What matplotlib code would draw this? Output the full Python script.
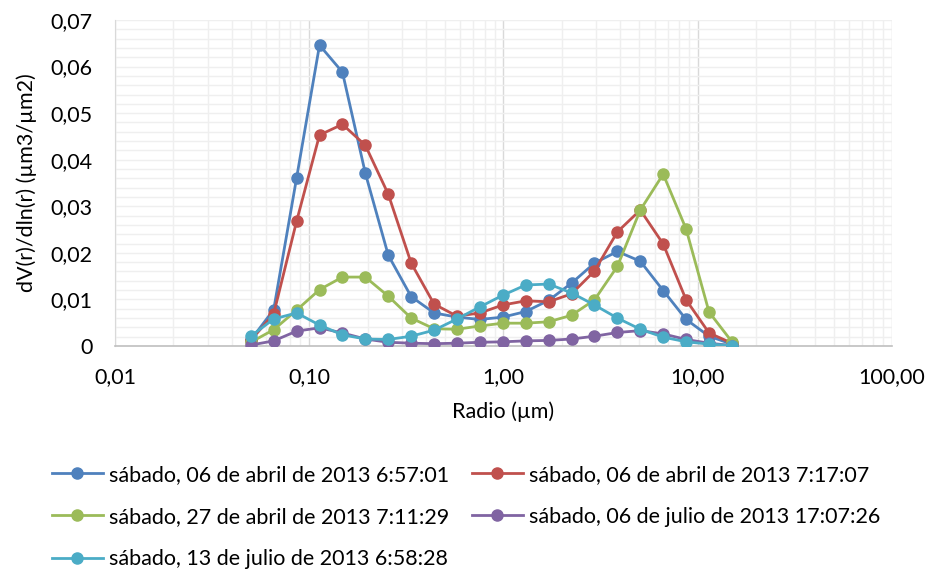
import matplotlib
matplotlib.use("Agg")
import matplotlib.pyplot as plt
from matplotlib.ticker import FixedLocator, LogLocator, MultipleLocator, NullFormatter

plt.rcParams['font.family'] = ['Lato', 'DejaVu Sans']

# radius bins (um)
radio = [0.05, 0.065604, 0.086077, 0.112939, 0.148184, 0.194429, 0.255105,
         0.334716, 0.439173, 0.576227, 0.756052, 0.991996, 1.301571, 1.707757,
         2.240702, 2.939966, 3.857452, 5.061260, 6.640745, 8.713145, 11.432287, 15.0]

abr06_0657 = [0.0013, 0.0078, 0.0361, 0.0646, 0.0588, 0.0371, 0.0195, 0.0106, 0.0071, 0.0062, 0.0057,
              0.0062, 0.0074, 0.0098, 0.0135, 0.0178, 0.0203, 0.0182, 0.0119, 0.0057, 0.0021, 0.0004]
abr06_0717 = [0.0012, 0.0069, 0.0268, 0.0453, 0.0476, 0.0431, 0.0326, 0.0178, 0.0090, 0.0064, 0.0071,
              0.0088, 0.0097, 0.0095, 0.0112, 0.0161, 0.0245, 0.0292, 0.0219, 0.0099, 0.0028, 0.0006]
abr27_0711 = [0.0008, 0.0035, 0.0077, 0.0121, 0.0148, 0.0148, 0.0107, 0.0060, 0.0037, 0.0036, 0.0043,
              0.0049, 0.0049, 0.0052, 0.0066, 0.0099, 0.0171, 0.0292, 0.0369, 0.0251, 0.0073, 0.0009]
jul06_1707 = [0.0002, 0.0011, 0.0032, 0.0039, 0.0028, 0.0015, 0.0008, 0.0006, 0.0005, 0.0006, 0.0008,
              0.0009, 0.0011, 0.0012, 0.0015, 0.0021, 0.0029, 0.0033, 0.0026, 0.0014, 0.0006, 0.0001]
jul13_0658 = [0.0021, 0.0058, 0.0071, 0.0045, 0.0024, 0.0015, 0.0014, 0.0021, 0.0034, 0.0058, 0.0084,
              0.0109, 0.0131, 0.0133, 0.0114, 0.0088, 0.0060, 0.0036, 0.0019, 0.0009, 0.0004, 0.0001]

series = [
    ("sábado, 06 de abril de 2013 6:57:01", abr06_0657, "#4F81BD"),
    ("sábado, 06 de abril de 2013 7:17:07", abr06_0717, "#C0504D"),
    ("sábado, 27 de abril de 2013 7:11:29", abr27_0711, "#9BBB59"),
    ("sábado, 06 de julio de 2013 17:07:26", jul06_1707, "#8064A2"),
    ("sábado, 13 de julio de 2013 6:58:28", jul13_0658, "#4BACC6"),
]

xticks = [0.01, 0.1, 1, 10, 100]
xticklabels = ["0,01", "0,10", "1,00", "10,00", "100,00"]
yticks = [0, 0.01, 0.02, 0.03, 0.04, 0.05, 0.06, 0.07]
yticklabels = ["0", "0,01", "0,02", "0,03", "0,04", "0,05", "0,06", "0,07"]

fs = 15.5

fig = plt.figure(figsize=(9.29, 5.71), dpi=100)
ax = fig.add_axes([115 / 929, 1 - 346 / 571, (892 - 115) / 929, (346 - 20) / 571])

lines = []
for name, vals, col in series:
    ln, = ax.plot(radio, vals, color=col, lw=2, marker='o', ms=8, label=name, zorder=3)
    lines.append(ln)

ax.set_xscale('log')
ax.set_xlim(0.01, 100)
ax.set_ylim(0, 0.07)
ax.xaxis.set_major_locator(FixedLocator(xticks))
ax.set_xticklabels(xticklabels)
ax.xaxis.set_minor_locator(LogLocator(base=10, subs=range(2, 10), numticks=20))
ax.xaxis.set_minor_formatter(NullFormatter())
ax.set_yticks(yticks)
ax.set_yticklabels(yticklabels)
ax.yaxis.set_minor_locator(MultipleLocator(0.002))

ax.grid(True, which='major', axis='x', color='#D9D9D9', lw=1)
ax.grid(True, which='minor', axis='x', color='#EFEFEF', lw=1)
ax.grid(True, which='both', axis='y', color='#EFEFEF', lw=1)
ax.set_axisbelow(True)
ax.tick_params(which='both', length=0, labelsize=fs, colors='#000000')
ax.tick_params(axis='x', pad=15)
ax.tick_params(axis='y', pad=16)

for s in ['top', 'right']:
    ax.spines[s].set_visible(False)
ax.spines['left'].set_color('#D9D9D9')
ax.spines['bottom'].set_color('#BFBFBF')
ax.spines['bottom'].set_linewidth(1.2)

ax.set_xlabel("Radio (µm)", fontsize=fs)
ax.set_ylabel("dV(r)/dln(r) (µm3/µm2)", fontsize=fs)
ax.xaxis.set_label_coords(0.5, -0.17)
ax.yaxis.set_label_coords(-0.10, 0.5)

order = [0, 2, 4, 1, 3]
fig.legend([lines[i] for i in order], [series[i][0] for i in order],
           loc='upper left', bbox_to_anchor=(43 / 929, 1 - 456 / 571), ncol=2,
           frameon=False, fontsize=fs, handlelength=2.4, handletextpad=0.25,
           columnspacing=1.05, labelspacing=1.04, borderaxespad=0)

fig.savefig("out.png", dpi=100)
